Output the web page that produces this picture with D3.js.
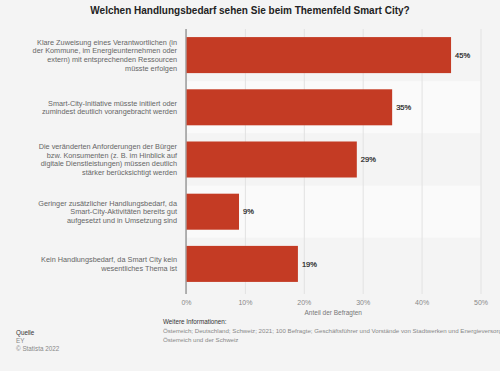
<!DOCTYPE html>
<html>
<head>
<meta charset="utf-8">
<script src="https://cdn.jsdelivr.net/npm/d3@7"></script>
<style>
  body { margin: 0; background: #f4f4f4; }
  svg { display: block; font-family: "Liberation Sans", Arial, sans-serif; }
</style>
</head>
<body>
<div id="chart"></div>
<script>
// categories (line-broken as in the source), values in percent, axis ticks
var categories = [
  ["Klare Zuweisung eines Verantwortlichen (in", "der Kommune, im Energieunternehmen oder", "extern) mit entsprechenden Ressourcen", "müsste erfolgen"],
  ["Smart-City-Initiative müsste initiiert oder", "zumindest deutlich vorangebracht werden"],
  ["Die veränderten Anforderungen der Bürger", "bzw. Konsumenten (z. B. im Hinblick auf", "digitale Dienstleistungen) müssen deutlich", "stärker berücksichtigt werden"],
  ["Geringer zusätzlicher Handlungsbedarf, da", "Smart-City-Aktivitäten bereits gut", "aufgesetzt und in Umsetzung sind"],
  ["Kein Handlungsbedarf, da Smart City kein", "wesentliches Thema ist"]
];
var values = [45, 35, 29, 9, 19];
var ticks = [0, 10, 20, 30, 40, 50];

var width = 500, height = 371;
var margin = {"left": 186, "right": 20, "top": 29, "bottom": 81};

var svg = d3.select("#chart").append("svg")
            .attr("width", width)
            .attr("height", height);

svg.append("rect").attr("width", width).attr("height", height).attr("fill", "#f4f4f4");

var x = d3.scaleLinear()
          .domain([0, 50])
          .range([margin.left, 480.5]);

var y = d3.scaleBand()
          .domain(d3.range(values.length))
          .range([margin.top, height - margin.bottom])
          .paddingInner(0.31)
          .paddingOuter(0.155);

var step = y.step();

// alternating row bands
svg.selectAll(".band")
   .data(d3.range(values.length))
   .enter().append("rect")
   .attr("x", x(0))
   .attr("width", x(50) - x(0))
   .attr("y", function(d) { return margin.top + d * step; })
   .attr("height", step)
   .attr("fill", function(d) { return d % 2 == 1 ? "#fafafa" : "#f4f4f4"; });

// grid + axis
var xAxis = d3.axisBottom(x)
              .tickValues(ticks)
              .tickSize(-(height - margin.bottom - margin.top) - 4)
              .tickPadding(6)
              .tickFormat(function(d) { return d + "%"; });

var gx = svg.append("g")
            .attr("transform", "translate(0," + (height - margin.bottom + 4) + ")")
            .call(xAxis);
gx.select(".domain").remove();
gx.selectAll("line").attr("stroke", "#e2e2e2");
gx.selectAll("text").attr("fill", "#888").style("font-size", "7px")
  .style("font-family", "'Liberation Sans', Arial, sans-serif");

svg.append("line")
   .attr("x1", x(0)).attr("x2", x(0))
   .attr("y1", margin.top).attr("y2", height - margin.bottom + 4)
   .attr("stroke", "#888").attr("stroke-width", 1.2);

// bars
svg.selectAll(".bar")
   .data(values)
   .enter().append("rect")
   .attr("class", "bar")
   .attr("x", x(0) + 0.6)
   .attr("y", function(d, i) { return y(i); })
   .attr("width", function(d) { return x(d) - x(0) - 0.6; })
   .attr("height", y.bandwidth())
   .attr("fill", "#c43b24");

// value labels
svg.selectAll(".val")
   .data(values)
   .enter().append("text")
   .attr("x", function(d) { return x(d) + 4; })
   .attr("y", function(d, i) { return y(i) + y.bandwidth() / 2; })
   .attr("dy", "0.35em")
   .attr("fill", "#222")
   .attr("stroke", "#222")
   .attr("stroke-width", 0.2)
   .style("font-size", "7.5px")
   .text(function(d) { return d + "%"; });

// category labels
var lineH = 8.6;
svg.selectAll(".cat")
   .data(categories)
   .enter().append("text")
   .attr("text-anchor", "end")
   .attr("fill", "#666")
   .style("font-size", "7.3px")
   .each(function(lines, i) {
     var cy = y(i) + y.bandwidth() / 2;
     var top = cy - (lines.length - 1) * lineH / 2;
     d3.select(this).selectAll("tspan")
       .data(lines)
       .enter().append("tspan")
       .attr("x", 177)
       .attr("y", function(l, j) { return top + j * lineH; })
       .attr("dy", "0.35em")
       .text(function(l) { return l; });
   });

// title
svg.append("text")
   .attr("x", 250).attr("y", 14)
   .attr("text-anchor", "middle")
   .attr("fill", "#222")
   .style("font-size", "10px")
   .style("font-weight", "bold")
   .text("Welchen Handlungsbedarf sehen Sie beim Themenfeld Smart City?");

// axis title
svg.append("text")
   .attr("x", x(25)).attr("y", 315)
   .attr("text-anchor", "middle")
   .attr("fill", "#777")
   .style("font-size", "6.5px")
   .text("Anteil der Befragten");

// footer
var foot = svg.append("g").style("font-size", "6.3px");
foot.append("text").attr("x", 16).attr("y", 335).attr("fill", "#333").text("Quelle");
foot.append("text").attr("x", 16).attr("y", 343).attr("fill", "#888").text("EY");
foot.append("text").attr("x", 16).attr("y", 351).attr("fill", "#888").text("© Statista 2022");

foot.append("text").attr("x", 163).attr("y", 324).attr("fill", "#333").text("Weitere Informationen:");
foot.append("text").attr("x", 163).attr("y", 333).attr("fill", "#888")
    .style("font-size", "6.15px")
    .text("Österreich; Deutschland; Schweiz; 2021; 100 Befragte; Geschäftsführer und Vorstände von Stadtwerken und Energieversorgern in");
foot.append("text").attr("x", 163).attr("y", 341.5).attr("fill", "#888")
    .style("font-size", "6.15px")
    .text("Österreich und der Schweiz");
</script>
</body>
</html>
